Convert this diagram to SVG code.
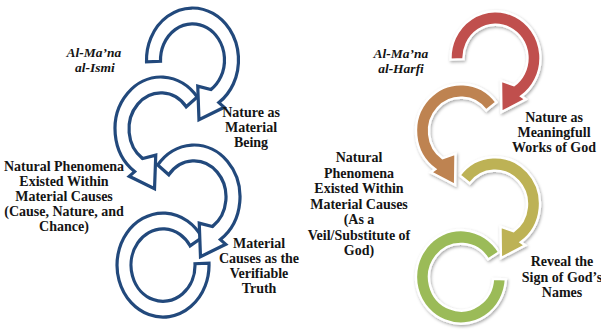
<svg xmlns="http://www.w3.org/2000/svg" width="601" height="335" viewBox="0 0 601 335">
  <defs>
    <style>
      .lbl{font-family:"Liberation Serif","Times New Roman",serif;font-weight:bold;font-size:14px;fill:#141414;text-anchor:middle}
      .it{font-style:italic;font-size:13.5px}
      .navy{fill:#ffffff;stroke:#22497c;stroke-width:3.2;stroke-linejoin:miter}
      .band{stroke:#ffffff;stroke-width:2.4;stroke-linejoin:miter}
    </style>
    <filter id="soft" x="-25%" y="-25%" width="150%" height="150%">
      <feDropShadow dx="1" dy="1.5" stdDeviation="1.6" flood-color="#000" flood-opacity="0.35"/>
    </filter>
  </defs>

  <rect width="601" height="335" fill="#ffffff"/>

  <!-- Left chain: outlined circular arrows (drawn bottom-up so each arrowhead sits over the next tail) -->
  <g id="connectors-left">
    <g id="arrow-l4">
      <path class="navy" d="M202 237.45 A46 52 0 1 0 209 263.2 L195 263.7 A32 36.2 0 1 1 190.1 245.8 Z"/>
    </g>
    <g id="arrow-l3">
      <path class="navy" vector-effect="non-scaling-stroke" transform="translate(194 197) scale(1 1.13) rotate(-35)" d="M-13.45 -43.99 A46 46 0 1 1 0 46 L2 52.5 L-25 47 L-9 22 L0 32 A32 32 0 1 0 -9.36 -30.6 Z"/>
    </g>
    <g id="arrow-l2">
      <path class="navy" vector-effect="non-scaling-stroke" transform="translate(161 129) scale(1 1.13) rotate(35)" d="M13.45 -43.99 A46 46 0 1 0 0 46 L-2 52.5 L25 47 L9 22 L0 32 A32 32 0 1 1 9.36 -30.6 Z"/>
    </g>
    <g id="arrow-l1">
      <path class="navy" vector-effect="non-scaling-stroke" transform="translate(192.5 60) scale(1 1.13) rotate(-35)" d="M-38.58 -25.05 A46 46 0 1 1 0 46 L2 52.5 L-25 47 L-9 22 L0 32 A32 32 0 1 0 -26.84 -17.43 Z"/>
    </g>
  </g>

  <!-- Right chain: filled circular arrows, red to green -->
  <g id="connectors-right">
    <g id="arrow-r4" filter="url(#soft)">
      <path class="band" fill="#9bbb59" d="M499.2 252.2 A45 46.8 0 1 0 505.9 279.4 L493 278.7 A32 33.3 0 1 1 488.1 259.4 Z"/>
    </g>
    <g id="arrow-r3" filter="url(#soft)">
      <path class="band" fill="#bdb255" vector-effect="non-scaling-stroke" transform="translate(495 204) scale(1 1.04) rotate(-35)" d="M-13.16 -43.03 A45 45 0 1 1 0 45 L2 50 L-25 46 L-8 21 L0 32 A32 32 0 1 0 -9.36 -30.6 Z"/>
    </g>
    <g id="arrow-r2" filter="url(#soft)">
      <path class="band" fill="#be8351" vector-effect="non-scaling-stroke" transform="translate(461 131) scale(1 1.04) rotate(35)" d="M13.16 -43.03 A45 45 0 1 0 0 45 L-2 50 L25 46 L8 21 L0 32 A32 32 0 1 1 9.36 -30.6 Z"/>
    </g>
    <g id="arrow-r1" filter="url(#soft)">
      <path class="band" fill="#c0504d" vector-effect="non-scaling-stroke" transform="translate(495.5 58) scale(1 1.04) rotate(-35)" d="M-37.74 -24.51 A45 45 0 1 1 0 45 L2 50 L-25 46 L-8 21 L0 32 A32 32 0 1 0 -26.84 -17.43 Z"/>
    </g>
  </g>

  <!-- Left labels -->
  <g id="label-l-ismi">
    <text class="lbl it" x="94" y="57">Al-Ma’na</text>
    <text class="lbl it" x="95" y="72">al-Ismi</text>
  </g>
  <g id="label-l-nature">
    <text class="lbl" x="251" y="117">Nature as</text>
    <text class="lbl" x="251" y="132">Material</text>
    <text class="lbl" x="251" y="147">Being</text>
  </g>
  <g id="label-l-phenomena">
    <text class="lbl" x="64" y="171">Natural Phenomena</text>
    <text class="lbl" x="64" y="186">Existed Within</text>
    <text class="lbl" x="64" y="201">Material Causes</text>
    <text class="lbl" x="64" y="216">(Cause, Nature, and</text>
    <text class="lbl" x="64" y="231">Chance)</text>
  </g>
  <g id="label-l-causes">
    <text class="lbl" x="259" y="248">Material</text>
    <text class="lbl" x="259" y="263">Causes as the</text>
    <text class="lbl" x="259" y="278">Verifiable</text>
    <text class="lbl" x="259" y="293">Truth</text>
  </g>

  <!-- Right labels -->
  <g id="label-r-harfi">
    <text class="lbl it" x="401" y="58">Al-Ma’na</text>
    <text class="lbl it" x="401" y="73">al-Harfi</text>
  </g>
  <g id="label-r-nature">
    <text class="lbl" x="554" y="122">Nature as</text>
    <text class="lbl" x="554" y="137">Meaningfull</text>
    <text class="lbl" x="554" y="152">Works of God</text>
  </g>
  <g id="label-r-phenomena">
    <text class="lbl" x="359" y="162">Natural</text>
    <text class="lbl" x="359" y="177.5">Phenomena</text>
    <text class="lbl" x="359" y="193">Existed Within</text>
    <text class="lbl" x="359" y="208.5">Material Causes</text>
    <text class="lbl" x="359" y="224">(As a</text>
    <text class="lbl" x="359" y="239.5">Veil/Substitute of</text>
    <text class="lbl" x="359" y="255">God)</text>
  </g>
  <g id="label-r-reveal">
    <text class="lbl" x="562" y="266">Reveal the</text>
    <text class="lbl" x="562" y="281.5">Sign of God’s</text>
    <text class="lbl" x="562" y="297">Names</text>
  </g>
</svg>
